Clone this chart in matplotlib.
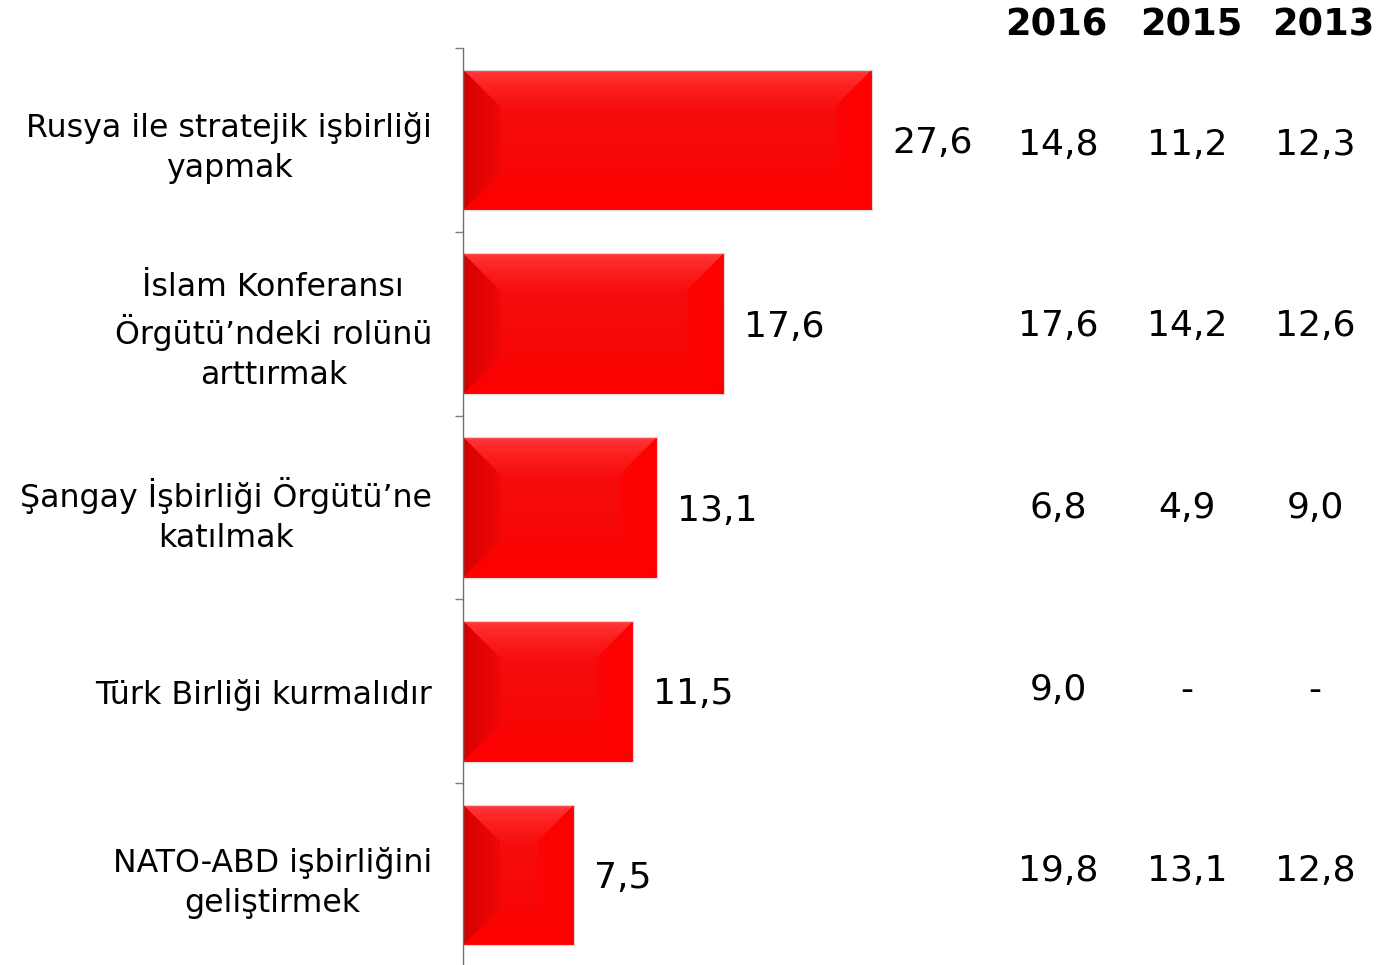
import numpy as np
import matplotlib
matplotlib.use("Agg")
import matplotlib.pyplot as plt
from matplotlib.patches import Polygon
from matplotlib.colors import LinearSegmentedColormap

plt.rcParams['font.family'] = ['DejaVu Sans']

# ---------------- data ----------------
categories = [
    "Rusya ile stratejik işbirliği\nyapmak",
    "İslam Konferansı\nÖrgütü’ndeki rolünü\narttırmak",
    "Şangay İşbirliği Örgütü’ne\nkatılmak",
    "Türk Birliği kurmalıdır",
    "NATO-ABD işbirliğini\ngeliştirmek",
]
bar_values = [27.6, 17.6, 13.1, 11.5, 7.5]
years = ["2016", "2015", "2013"]
values_2016 = [14.8, 17.6, 6.8, 9.0, 19.8]
values_2015 = [11.2, 14.2, 4.9, None, 13.1]
values_2013 = [12.3, 12.6, 9.0, None, 12.8]


def fmt(v):
    return "-" if v is None else f"{v:.1f}".replace(".", ",")


W, H = 1379, 965
fig = plt.figure(figsize=(W / 100, H / 100), dpi=100)
ax = fig.add_axes([463 / W, -2 / H, 900 / W, 919 / H])

ypos = np.arange(len(categories))
bars = ax.barh(ypos, bar_values, height=0.766, color="#f70a0a",
               edgecolor="#d6d6d6", linewidth=0.8, zorder=2)

px_per_unit_x = 14.82
xmax = 900 / px_per_unit_x
ymin, ymax = -0.5, len(categories) - 0.5
px_per_unit_y = 919 / (ymax - ymin)
bev = 37
bx = bev / px_per_unit_x
by = bev / px_per_unit_y


def grad(pts, extent, colors, vertical, z):
    cmap = LinearSegmentedColormap.from_list("g", colors)
    g = np.linspace(0, 1, 256)
    arr = g[:, None] if vertical else g[None, :]
    im = ax.imshow(arr, cmap=cmap, extent=extent, origin="upper",
                   aspect="auto", interpolation="bilinear", zorder=z)
    poly = Polygon(pts, closed=True, facecolor="none", edgecolor="none",
                   transform=ax.transData)
    ax.add_patch(poly)
    im.set_clip_path(poly)


for b in bars:
    x0 = b.get_x()
    x1 = x0 + b.get_width()
    y0 = b.get_y()            # visual top (inverted axis)
    y1 = y0 + b.get_height()  # visual bottom
    # face
    grad([(x0, y0), (x1, y0), (x1, y1), (x0, y1)], (x0, x1, y1, y0),
         [(0, "#f81010"), (0.5, "#f60a0a"), (1, "#fb0202")], True, 2.1)
    # top bevel
    grad([(x0, y0), (x1, y0), (x1 - bx, y0 + by), (x0 + bx, y0 + by)],
         (x0, x1, y0 + by, y0),
         [(0, "#ff5050"), (0.08, "#ff3434"), (0.45, "#fc2020"), (1, "#f80f0f")],
         True, 2.2)
    # bottom bevel
    grad([(x0, y1), (x1, y1), (x1 - bx, y1 - by), (x0 + bx, y1 - by)],
         (x0, x1, y1, y1 - by), [(0, "#fa0404"), (1, "#fe0000")], True, 2.2)
    # right bevel
    grad([(x1, y0), (x1, y1), (x1 - bx, y1 - by), (x1 - bx, y0 + by)],
         (x1 - bx, x1, y1, y0), [(0, "#fc0505"), (1, "#ff0000")], False, 2.2)
    # left bevel
    grad([(x0, y0), (x0 + bx, y0 + by), (x0 + bx, y1 - by), (x0, y1)],
         (x0, x0 + bx, y1, y0),
         [(0, "#8a0000"), (0.06, "#d60000"), (0.5, "#e40303"), (1, "#ef0707")],
         False, 2.2)
    # outline
    ax.add_patch(Polygon([(x0, y0), (x1, y0), (x1, y1), (x0, y1)], closed=True,
                         facecolor="none", edgecolor="#d8d8d8", linewidth=0.8,
                         zorder=2.3))
    ax.annotate(fmt(b.get_width()), xy=(x1, b.get_y() + b.get_height() / 2),
                xytext=(20 * 0.72, -2.2), textcoords="offset points",
                va="center", ha="left", fontsize=26, color="black")

ax.set_xlim(0, xmax)
ax.set_ylim(ymax, ymin)

ax.set_yticks(ypos)
ax.set_yticklabels(categories, fontsize=22.8, multialignment="center",
                   linespacing=1.36)
ax.tick_params(axis="y", which="major", length=0, pad=31 * 0.72)
ax.set_yticks(np.arange(ymin, ymax + 0.01, 1), minor=True)
ax.tick_params(axis="y", which="minor", length=8 * 0.72, width=1,
               color="#7f7f7f", direction="out")
ax.set_xticks([])
for s in ["top", "right", "bottom"]:
    ax.spines[s].set_visible(False)
ax.spines["left"].set_color("#6f6f6f")
ax.spines["left"].set_linewidth(1)
ax.spines["left"].set_zorder(3)

# table of previous years
header_x = [1056, 1191, 1323]
col_x = [1058, 1187, 1315]
for yr, hx in zip(years, header_x):
    fig.text(hx / W, 1 - 35 / H, yr, ha="center", va="baseline",
             fontsize=26.5, fontweight="bold", color="black")
for col, cx in zip([values_2016, values_2015, values_2013], col_x):
    for i, v in enumerate(col):
        by_px = 155 + i * 181.5
        fig.text(cx / W, 1 - by_px / H, fmt(v), ha="center", va="baseline",
                 fontsize=26, color="black")

fig.savefig("out.png", dpi=100)
